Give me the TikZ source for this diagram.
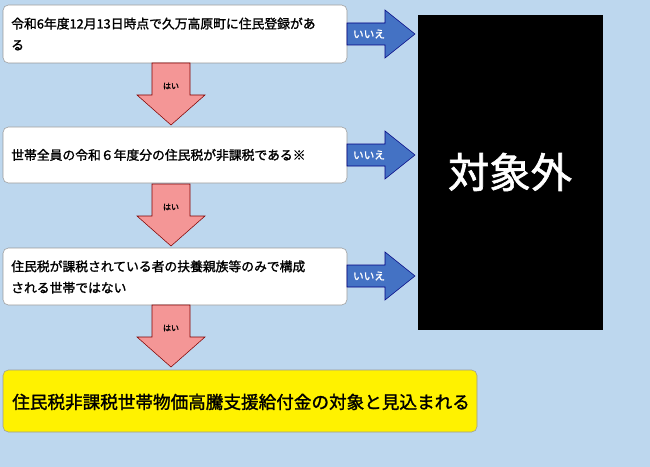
\documentclass[tikz,border=0pt]{standalone}
\usepackage{fontspec}
\newfontfamily\cjk[AutoFakeBold=1.5]{Noto Sans CJK JP}
\begin{document}
\begin{tikzpicture}[x=0.75pt,y=-0.75pt,
  qbox/.style={draw=black!40,fill=white,rounded corners=4pt},
  barrow/.style={draw=blue!50!black,fill={rgb,255:red,68;green,114;blue,196}},
  parrow/.style={draw=red!50!black,fill={rgb,255:red,244;green,150;blue,150}},
  lbl/.style={font=\cjk\bfseries\fontsize{9.6}{16}\selectfont,anchor=west,align=left,inner sep=0pt}]
\fill[fill={rgb,255:red,189;green,215;blue,238}] (0,0) rectangle (650,467);
\useasboundingbox (0,0) rectangle (650,467);
% question boxes
\draw[qbox] (3,5) rectangle (347,63);
\node[lbl] (q1) at (11,34) {令和6年度12月13日時点で久万高原町に住民登録があ\\る};
\draw[qbox] (3,127) rectangle (347,183);
\node[lbl] (q2) at (11,155) {世帯全員の令和６年度分の住民税が非課税である※};
\draw[qbox] (3,248) rectangle (347,305);
\node[lbl] (q3) at (11,277) {住民税が課税されている者の扶養親族等のみで構成\\される世帯ではない};
% result boxes
\draw[draw=black!40,fill=yellow,rounded corners=4pt] (3,370) rectangle (477,432);
\node[font=\cjk\bfseries\fontsize{13.2}{15}\selectfont,anchor=west,inner sep=0pt] (res) at (12,402) {住民税非課税世帯物価高騰支援給付金の対象と見込まれる};
\fill[black] (418,15) rectangle (603,330);
\node[font=\cjk\bfseries\fontsize{31}{34}\selectfont,text=white] (out) at (510,172) {対象外};
% blue arrows
\foreach \y in {34,155,276}{
  \draw[barrow] (347,\y-11) -- (385,\y-11) -- (385,\y-24) -- (415,\y) -- (385,\y+24) -- (385,\y+11) -- (347,\y+11) -- cycle;
  \node[font=\cjk\bfseries\fontsize{8}{10}\selectfont,text=white] at (369,\y) {いいえ};
}
% pink arrows
\foreach \t in {63,184,305}{
  \draw[parrow] (152,\t) -- (190,\t) -- (190,\t+32) -- (205,\t+32) -- (171,\t+62) -- (137,\t+32) -- (152,\t+32) -- cycle;
  \node[font=\cjk\bfseries\fontsize{6}{8}\selectfont] at (171,\t+23) {はい};
}
\end{tikzpicture}
\end{document}
